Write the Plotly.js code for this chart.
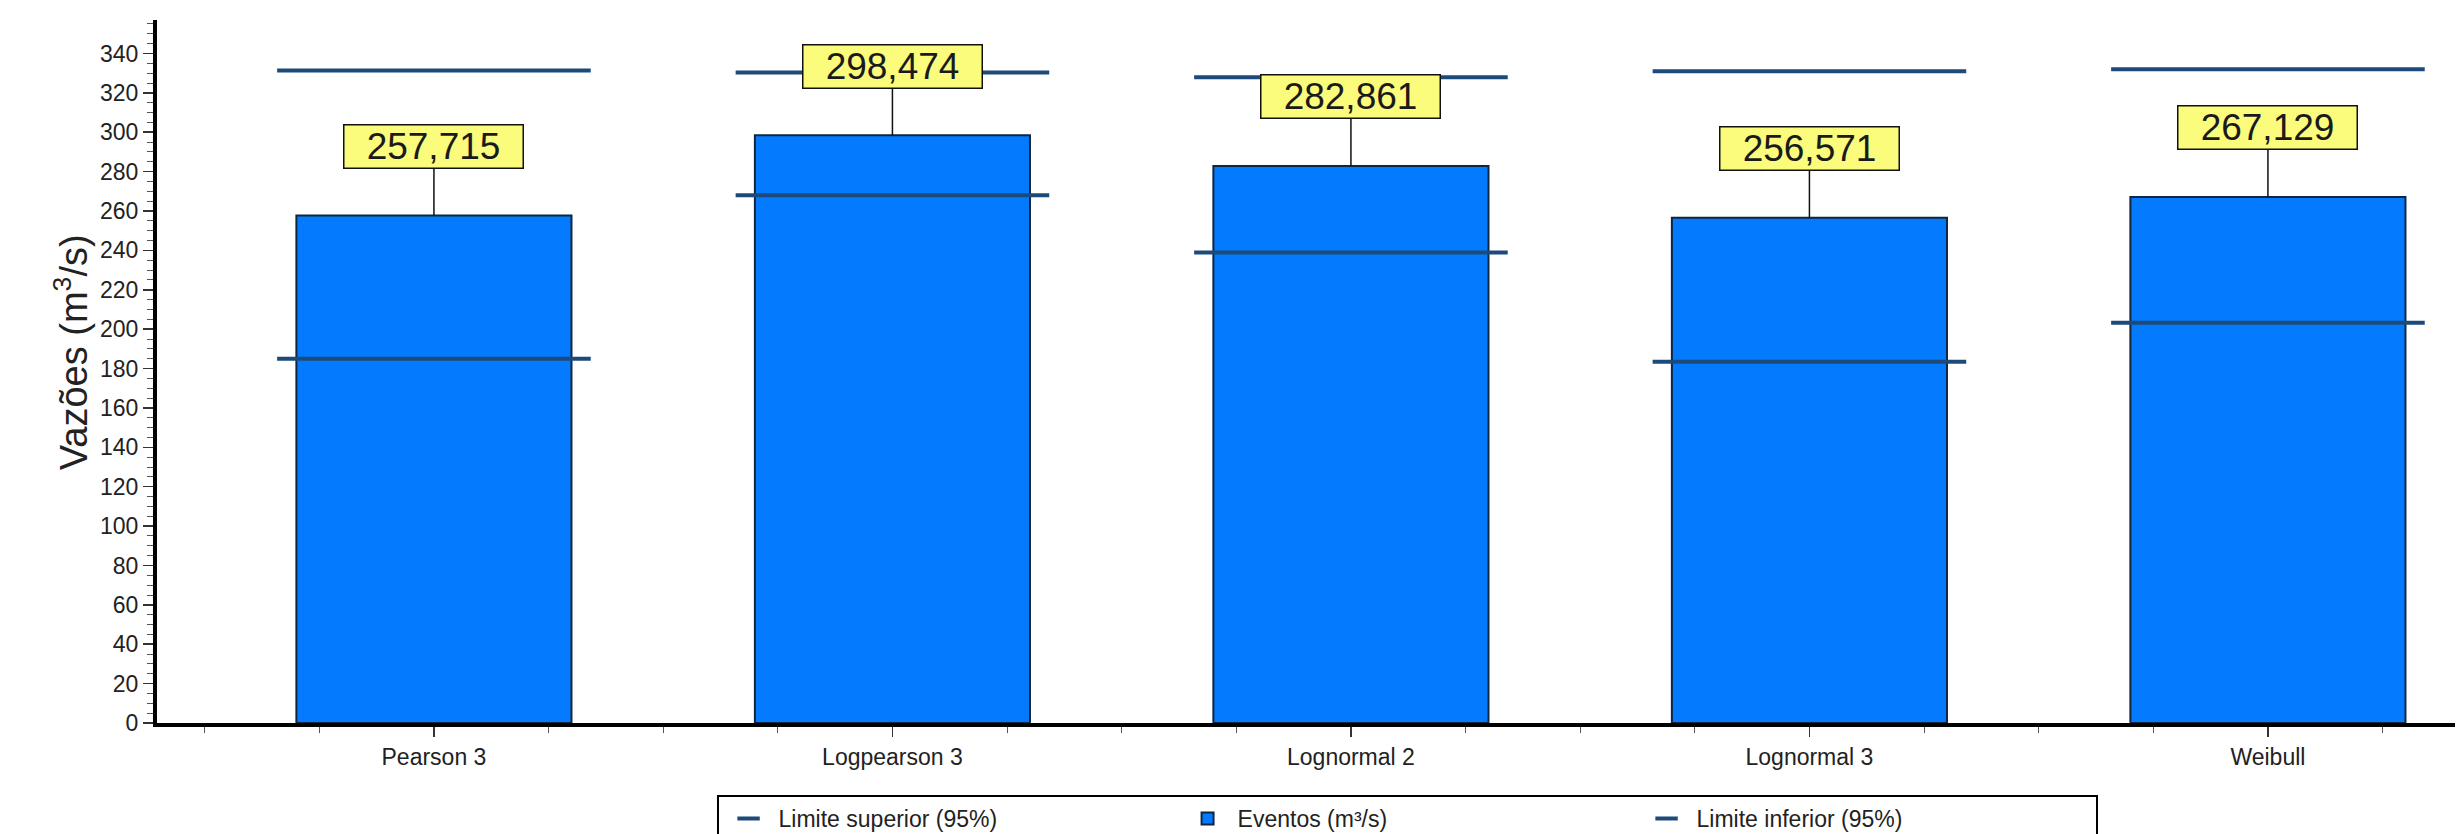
<!DOCTYPE html>
<html><head><meta charset="utf-8">
<script src="https://cdn.plot.ly/plotly-3.0.1.min.js"></script>
<style>html,body{margin:0;padding:0;background:#fff}</style>
</head><body>
<div id="chart" style="width:2463px;height:834px"></div>
<script>
const categories = ['Pearson 3', 'Logpearson 3', 'Lognormal 2', 'Lognormal 3', 'Weibull'];
const eventos = [257.715, 298.474, 282.861, 256.571, 267.129];
const limiteSuperior = [331.3, 330.3, 327.9, 331.0, 332.0];
const limiteInferior = [185.0, 268.0, 238.9, 183.5, 203.3];
const yTickValues = [0, 20, 40, 60, 80, 100, 120, 140, 160, 180, 200, 220, 240, 260, 280, 300, 320, 340];
const yTitle = 'Vazões (m<sup>3</sup>/s)';

const FONT = 'Liberation Sans, Arial, sans-serif';
const LIMIT_COLOR = '#1c4a7a';
const xIdx = categories.map((_, i) => i);
const fmt = v => v.toFixed(3).replace('.', ',');

const limitMarker = {
  symbol: 'line-ew-open', size: 224, color: LIMIT_COLOR,
  line: {width: 4, color: LIMIT_COLOR}
};

const traces = [
  {type: 'scatter', mode: 'markers', name: 'Limite superior (95%)', x: xIdx, y: limiteSuperior,
   marker: limitMarker, cliponaxis: false},
  {type: 'bar', name: 'Eventos (m³/s)', x: xIdx, y: eventos,
   marker: {color: '#047bff', line: {color: '#0f2640', width: 2}}},
  {type: 'scatter', mode: 'markers', name: 'Limite inferior (95%)', x: xIdx, y: limiteInferior,
   marker: limitMarker, cliponaxis: false}
];

const annotations = eventos.map((v, i) => ({
  x: i, y: v, xref: 'x', yref: 'y', text: fmt(v),
  showarrow: true, arrowhead: 0, arrowwidth: 1.5, arrowcolor: '#111', ax: 0, ay: -69,
  bgcolor: '#fbfb7c', bordercolor: '#111', borderwidth: 1.5, borderpad: 0,
  width: 178, height: 42, valign: 'middle',
  font: {family: FONT, size: 37, color: '#1a1a1a'}
}));

annotations.push({
  xref: 'paper', yref: 'paper', x: -0.0377, y: 0.528, xanchor: 'center', yanchor: 'middle',
  text: yTitle, textangle: -90, showarrow: false,
  font: {family: FONT, size: 38, color: '#222'}
});

const layout = {
  width: 2463, height: 834,
  margin: {l: 157, r: 8, t: 20, b: 111, autoexpand: false},
  paper_bgcolor: '#fff', plot_bgcolor: '#fff',
  font: {family: FONT, color: '#222'},
  showlegend: true,
  hovermode: false,
  bargap: 0.4,
  xaxis: {
    range: [-0.604, 4.408], tickmode: 'array', tickvals: xIdx, ticktext: categories,
    ticks: 'outside', ticklen: 10, tickwidth: 1.5, tickcolor: '#333',
    showline: true, linecolor: '#000', linewidth: 4, showgrid: false, zeroline: false,
    tickfont: {family: FONT, size: 23, color: '#222'},
    minor: {tickmode: 'linear', tick0: 0, dtick: 0.25, ticks: 'outside', ticklen: 6, tickwidth: 1, tickcolor: '#555', showgrid: false}
  },
  yaxis: {
    range: [0, 357], tickmode: 'array', tickvals: yTickValues,
    ticks: 'outside', ticklen: 10, tickwidth: 1.5, tickcolor: '#333',
    showline: true, linecolor: '#000', linewidth: 4, showgrid: false, zeroline: false,
    tickfont: {family: FONT, size: 23, color: '#222'},
    minor: {tickmode: 'linear', tick0: 0, dtick: 5, ticks: 'outside', ticklen: 6, tickwidth: 1, tickcolor: '#555', showgrid: false}
  },
  legend: {
    orientation: 'h', x: 0.2435, xanchor: 'left', y: -0.1024, yanchor: 'top',
    bordercolor: '#000', borderwidth: 2, bgcolor: '#fff',
    font: {family: FONT, size: 23, color: '#222'},
    itemsizing: 'trace', itemwidth: 50, entrywidth: 394, traceorder: 'normal'
  },
  shapes: [
    {type: 'line', xref: 'paper', yref: 'paper', x0: 0.8422, x1: 0.8422, y0: -0.108, y1: -0.17,
     line: {color: '#000', width: 5}}
  ],
  annotations: annotations
};

Plotly.newPlot('chart', traces, layout, {displayModeBar: false, staticPlot: true});
</script>
</body></html>
